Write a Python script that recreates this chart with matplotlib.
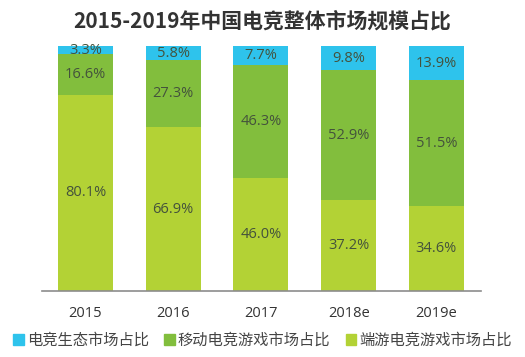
import numpy as np
import matplotlib.pyplot as plt
from matplotlib.patches import Patch

plt.rcParams['font.family'] = ['Noto Sans CJK SC', 'DejaVu Sans']

years = ["2015", "2016", "2017", "2018e", "2019e"]
pc_share = [80.1, 66.9, 46.0, 37.2, 34.6]       # 端游电竞游戏市场占比
mobile_share = [16.6, 27.3, 46.3, 52.9, 51.5]   # 移动电竞游戏市场占比
eco_share = [3.3, 5.8, 7.7, 9.8, 13.9]          # 电竞生态市场占比

c_eco = "#2ec3ec"
c_mobile = "#82be3d"
c_pc = "#b3d235"
txt = "#44523c"
numfont = ["Open Sans", "DejaVu Sans"]

fig = plt.figure(figsize=(5.25, 3.57), dpi=100)
ax = fig.add_axes([0.08, 0.185, 0.836, 0.686])

x = np.arange(len(years))
w = 0.627
pc = np.array(pc_share)
mob = np.array(mobile_share)
eco = np.array(eco_share)

ax.bar(x, pc, w, color=c_pc)
ax.bar(x, mob, w, bottom=pc, color=c_mobile)
ax.bar(x, eco, w, bottom=pc + mob, color=c_eco)

# labels in the middle of each segment
for i in range(len(years)):
    ax.text(x[i], pc[i] / 2, f"{pc[i]:.1f}%", ha="center", va="center", fontsize=10.5, color=txt, family=numfont)
    ax.text(x[i], pc[i] + mob[i] / 2, f"{mob[i]:.1f}%", ha="center", va="center", fontsize=10.5, color=txt, family=numfont)
    ax.text(x[i], pc[i] + mob[i] + eco[i] / 2, f"{eco[i]:.1f}%", ha="center", va="center", fontsize=10.5, color=txt, family=numfont)

ax.set_xlim(-0.496, 4.507)
ax.set_ylim(0, 100)
ax.set_xticks(x)
ax.set_xticklabels(years, fontsize=10.5, color="#333333", family=numfont)
ax.tick_params(axis="x", length=0, pad=11)
ax.set_yticks([])
for s in ["top", "right", "left"]:
    ax.spines[s].set_visible(False)
ax.spines["bottom"].set_color("#8c8c8c")
ax.spines["bottom"].set_linewidth(1.2)

fig.text(0.5, 0.94, "2015-2019年中国电竞整体市场规模占比", ha="center", va="center",
         fontsize=15, fontweight="bold", color="#333333")

handles = [Patch(color=c_eco), Patch(color=c_mobile), Patch(color=c_pc)]
labels = ["电竞生态市场占比", "移动电竞游戏市场占比", "端游电竞游戏市场占比"]
fig.legend(handles, labels, loc="center", bbox_to_anchor=(0.5, 0.047), ncol=3, frameon=False,
           fontsize=11, handlelength=0.7, handleheight=0.7, handletextpad=0.2, columnspacing=1.0,
           labelcolor="#444444")

fig.savefig("out.png", dpi=100)
